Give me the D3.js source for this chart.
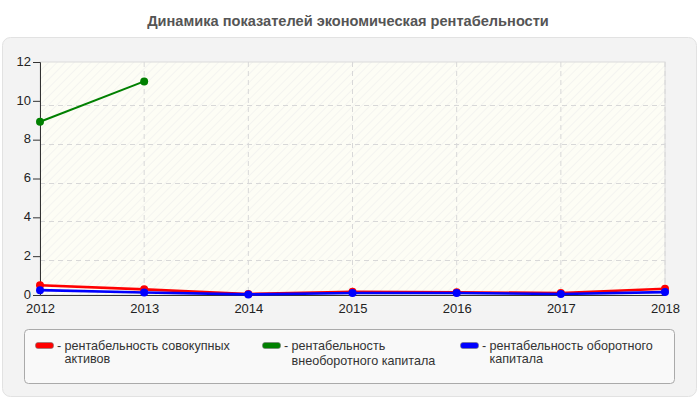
<!DOCTYPE html>
<html><head><meta charset="utf-8">
<script src="https://cdn.jsdelivr.net/npm/d3@7"></script>
<style>
body{margin:0;background:#fff;}
svg{display:block;font-family:"Liberation Sans",Arial,sans-serif;}
</style></head>
<body>
<svg id="c" width="700" height="400"></svg>
<script>
const title = "Динамика показателей экономическая рентабельности";
const years = [2012, 2013, 2014, 2015, 2016, 2017, 2018];
const yTicks = [0, 2, 4, 6, 8, 10, 12];
const seriesNames = ["рентабельность совокупных активов", "рентабельность внеоборотного капитала", "рентабельность оборотного капитала"];
const seriesColors = ["#ff0000", "#008000", "#0000ff"];
const assetsValues = [0.5, 0.29, 0.05, 0.17, 0.14, 0.1, 0.32];
const nonCurrentValues = [8.92, 11.0, null, null, null, null, null];
const currentValues = [0.25, 0.13, 0.03, 0.1, 0.1, 0.05, 0.15];
const legendLines = [["рентабельность совокупных", "активов"], ["рентабельность", "внеоборотного капитала"], ["рентабельность оборотного", "капитала"]];

const svg = d3.select("#c");
const defs = svg.append("defs");
const pat = defs.append("pattern").attr("id","hatch").attr("patternUnits","userSpaceOnUse")
  .attr("width",6).attr("height",6).attr("patternTransform","rotate(45)");
pat.append("rect").attr("width",6).attr("height",6).attr("fill","#fdfdf5");
pat.append("line").attr("x1",0).attr("y1",0).attr("x2",0).attr("y2",6).attr("stroke","#ececec").attr("stroke-width",1);

// frame
svg.append("rect").attr("x",2.5).attr("y",37.5).attr("width",694).attr("height",359).attr("rx",8)
  .attr("fill","#f3f3f3").attr("stroke","#e2e2e2");
svg.append("text").attr("x",348).attr("y",26).attr("text-anchor","middle")
  .attr("font-size",14.6).attr("font-weight","bold").attr("fill","#555").text(title);

const x = d3.scaleLinear().domain([years[0], years[years.length-1]]).range([40, 665]);
const y = d3.scaleLinear().domain([0, 12]).range([295, 62]);

svg.append("rect").attr("x",40).attr("y",62).attr("width",625).attr("height",233)
  .attr("fill","url(#hatch)").attr("stroke","#dcdcdc");

// grid
svg.append("g").selectAll("line").data(years.slice(1)).join("line")
  .attr("x1",d=>x(d)).attr("x2",d=>x(d)).attr("y1",62).attr("y2",295)
  .attr("stroke","#d8d8d8").attr("stroke-dasharray","5,4");
svg.append("g").selectAll("line").data(yTicks.slice(1,-1)).join("line")
  .attr("x1",40).attr("x2",665).attr("y1",d=>Math.round(y(d))+4.5).attr("y2",d=>Math.round(y(d))+4.5)
  .attr("stroke","#d8d8d8").attr("stroke-dasharray","5,4");

// axes
const yAxis = svg.append("g").attr("transform","translate(40,0)")
  .call(d3.axisLeft(y).tickValues(yTicks).tickSize(7).tickPadding(2).tickFormat(d3.format("d")));
yAxis.selectAll("text").attr("font-size",13).attr("fill","#222").attr("font-family","Liberation Sans, Arial").attr("dy","0.25em");
yAxis.selectAll("line,path").attr("stroke","#333");
const xAxis = svg.append("g").attr("transform","translate(0,295)")
  .call(d3.axisBottom(x).tickValues(years).tickSize(0).tickPadding(9).tickFormat(d3.format("d")));
xAxis.selectAll("text").attr("font-size",13).attr("fill","#222").attr("font-family","Liberation Sans, Arial");
xAxis.selectAll("path").attr("stroke","#333");

const data = [assetsValues, nonCurrentValues, currentValues];
const line = d3.line().defined(d=>d.v!=null).x(d=>x(d.year)).y(d=>y(d.v));
data.forEach((vals,i)=>{
  const pts = years.map((yr,j)=>({year:yr, v:vals[j]}));
  svg.append("path").datum(pts).attr("d",line).attr("fill","none")
    .attr("stroke",seriesColors[i]).attr("stroke-width", i===1?2:2.6);
  svg.append("g").selectAll("circle").data(pts.filter(d=>d.v!=null)).join("circle")
    .attr("cx",d=>x(d.year)).attr("cy",d=>y(d.v)).attr("r",4).attr("fill",seriesColors[i]);
});

// legend
svg.append("rect").attr("x",24.5).attr("y",329.5).attr("width",650).attr("height",54).attr("rx",4)
  .attr("fill","#f9f9f9").attr("stroke","#aaa");
const legX = [35, 262, 460];
const line2dy = [13, 15, 13];
legendLines.forEach((ls,i)=>{
  const g = svg.append("g").attr("transform",`translate(${legX[i]},0)`);
  g.append("rect").attr("x",0.5).attr("y",342.5).attr("width",18).attr("height",6).attr("rx",2.5)
    .attr("fill",seriesColors[i]).attr("stroke","#777").attr("stroke-width",0.6);
  g.append("text").attr("x",22).attr("y",350).attr("font-size",12.6).attr("fill","#333").text("-");
  const t = g.append("text").attr("x",29.5).attr("y",350).attr("font-size",12.6).attr("fill","#333");
  t.append("tspan").attr("x",29.5).text(ls[0]);
  t.append("tspan").attr("x",29.5).attr("dy",line2dy[i]).text(ls[1]);
});
</script>
</body></html>
